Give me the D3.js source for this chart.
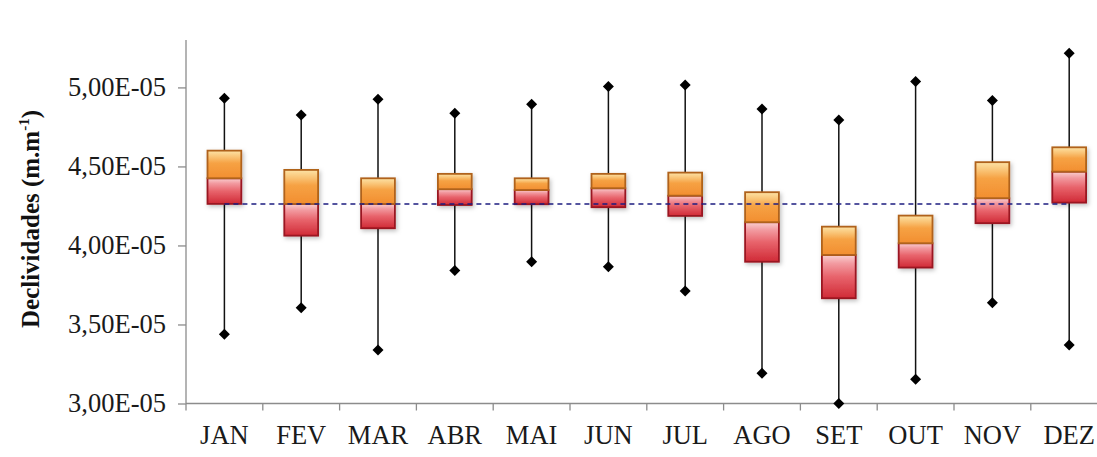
<!DOCTYPE html>
<html>
<head>
<meta charset="utf-8">
<script src="https://cdn.jsdelivr.net/npm/d3@7"></script>
<style>
  body { margin: 0; background: #fff; }
  svg { display: block; font-family: "Liberation Serif", "Times New Roman", serif; }
</style>
</head>
<body>
<svg width="1097" height="457"></svg>
<script>
// values in m.m-1
var months = ["JAN","FEV","MAR","ABR","MAI","JUN","JUL","AGO","SET","OUT","NOV","DEZ"];
var minVals = [3.438e-5,3.606e-5,3.339e-5,3.841e-5,3.897e-5,3.866e-5,3.712e-5,3.191e-5,3.000e-5,3.153e-5,3.638e-5,3.370e-5];
var q1Vals  = [4.263e-5,4.062e-5,4.109e-5,4.256e-5,4.261e-5,4.242e-5,4.187e-5,3.897e-5,3.666e-5,3.860e-5,4.141e-5,4.271e-5];
var medVals = [4.425e-5,4.263e-5,4.263e-5,4.356e-5,4.351e-5,4.362e-5,4.315e-5,4.147e-5,3.940e-5,4.014e-5,4.299e-5,4.467e-5];
var q3Vals  = [4.600e-5,4.478e-5,4.425e-5,4.453e-5,4.425e-5,4.453e-5,4.461e-5,4.337e-5,4.119e-5,4.189e-5,4.527e-5,4.621e-5];
var maxVals = [4.932e-5,4.826e-5,4.925e-5,4.837e-5,4.894e-5,5.005e-5,5.016e-5,4.864e-5,4.794e-5,5.037e-5,4.917e-5,5.216e-5];
var refValue = 4.263e-5;
var yTicks = [3.0e-5,3.5e-5,4.0e-5,4.5e-5,5.0e-5];

var svg = d3.select("svg");

var x = d3.scaleBand().domain(months).range([186, 1107.6]);
var y = d3.scaleLinear().domain([3.0e-5, 5.30e-5]).range([403.5, 40]);

var data = months.map(function(m, i) {
  return { month: m, min: minVals[i], q1: q1Vals[i], med: medVals[i], q3: q3Vals[i], max: maxVals[i] };
});

var defs = svg.append("defs");
var gOr = defs.append("linearGradient").attr("id","gradOrange").attr("x1",0).attr("y1",0).attr("x2",0).attr("y2",1);
gOr.append("stop").attr("offset","0%").attr("stop-color","#fde3a6");
gOr.append("stop").attr("offset","25%").attr("stop-color","#f9c070");
gOr.append("stop").attr("offset","45%").attr("stop-color","#f6a244");
gOr.append("stop").attr("offset","100%").attr("stop-color","#f28e30");
var gRd = defs.append("linearGradient").attr("id","gradRed").attr("x1",0).attr("y1",0).attr("x2",0).attr("y2",1);
gRd.append("stop").attr("offset","0%").attr("stop-color","#fad0d0");
gRd.append("stop").attr("offset","20%").attr("stop-color","#f29aa0");
gRd.append("stop").attr("offset","50%").attr("stop-color","#e8646c");
gRd.append("stop").attr("offset","100%").attr("stop-color","#d02a36");
var shadow = defs.append("filter").attr("id","shadow").attr("x","-30%").attr("y","-30%").attr("width","160%").attr("height","160%");
shadow.append("feDropShadow").attr("dx",1.5).attr("dy",2).attr("stdDeviation",2).attr("flood-color","#000").attr("flood-opacity",0.25);

// axes
var yAxis = svg.append("g")
  .attr("transform","translate(186,0)")
  .call(d3.axisLeft(y).tickValues(yTicks).tickSize(8).tickPadding(12)
    .tickFormat(function(d) { return (d * 1e5).toFixed(2).replace(".", ",") + "E-05"; }));
yAxis.select(".domain").attr("d","M0,40V403.5");

var xAxis = svg.append("g")
  .attr("transform","translate(0,403.5)")
  .call(d3.axisBottom(x).tickSize(0).tickPadding(22));
xAxis.select(".domain").attr("d","M186,0H1110");
xAxis.selectAll(".bnd").data(months.concat(["_end"])).enter().append("line")
  .attr("class","bnd")
  .attr("x1", function(d, i) { return 186 + i * x.step(); })
  .attr("x2", function(d, i) { return 186 + i * x.step(); })
  .attr("y1", 0).attr("y2", 7);

svg.selectAll(".domain, .tick line, .bnd").attr("stroke","#8c8c8c").attr("stroke-width",1.3);
yAxis.selectAll("text").attr("font-size","26.5px").attr("fill","#1a1a1a").attr("font-family","Liberation Serif, serif");
xAxis.selectAll("text").attr("font-size","26.5px").attr("fill","#1a1a1a").attr("font-family","Liberation Serif, serif");

svg.append("text")
  .attr("transform","translate(39,219) rotate(-90)")
  .attr("text-anchor","middle")
  .attr("font-size","25px")
  .attr("font-weight","bold")
  .attr("fill","#111")
  .html("Declividades (m.m<tspan font-size='15px' dy='-10'>-1</tspan><tspan dy='10'>)</tspan>");

var bw = x.bandwidth() * 0.44;
var cx = function(d) { return x(d.month) + x.bandwidth() / 2; };

var g = svg.append("g");

// whiskers
g.selectAll(".wTop").data(data).enter().append("line")
  .attr("x1", cx).attr("x2", cx)
  .attr("y1", function(d) { return y(d.max); })
  .attr("y2", function(d) { return y(d.q3); })
  .attr("stroke","#111").attr("stroke-width",1.5);
g.selectAll(".wBot").data(data).enter().append("line")
  .attr("x1", cx).attr("x2", cx)
  .attr("y1", function(d) { return y(d.q1); })
  .attr("y2", function(d) { return y(d.min); })
  .attr("stroke","#111").attr("stroke-width",1.5);

// boxes
var boxes = g.selectAll(".box").data(data).enter().append("g").attr("filter","url(#shadow)");
boxes.append("rect")
  .attr("x", function(d) { return cx(d) - bw / 2; })
  .attr("y", function(d) { return y(d.med); })
  .attr("width", bw)
  .attr("height", function(d) { return y(d.q1) - y(d.med); })
  .attr("fill","url(#gradRed)").attr("stroke","#9a1820").attr("stroke-width",1.8);
boxes.append("rect")
  .attr("x", function(d) { return cx(d) - bw / 2; })
  .attr("y", function(d) { return y(d.q3); })
  .attr("width", bw)
  .attr("height", function(d) { return y(d.med) - y(d.q3); })
  .attr("fill","url(#gradOrange)").attr("stroke","#b0621a").attr("stroke-width",1.8);

// reference line
g.append("line")
  .attr("x1", cx(data[0])).attr("x2", cx(data[data.length - 1]))
  .attr("y1", y(refValue)).attr("y2", y(refValue))
  .attr("stroke","#1c1c80").attr("stroke-width",1.5).attr("stroke-dasharray","5,4");

// diamonds
function diamond(px, py) {
  var r = 5.5;
  return "M" + px + "," + (py - r) + "L" + (px + r) + "," + py + "L" + px + "," + (py + r) + "L" + (px - r) + "," + py + "Z";
}
g.selectAll(".dMax").data(data).enter().append("path")
  .attr("d", function(d) { return diamond(cx(d), y(d.max)); }).attr("fill","#000");
g.selectAll(".dMin").data(data).enter().append("path")
  .attr("d", function(d) { return diamond(cx(d), y(d.min)); }).attr("fill","#000");
</script>
</body>
</html>
